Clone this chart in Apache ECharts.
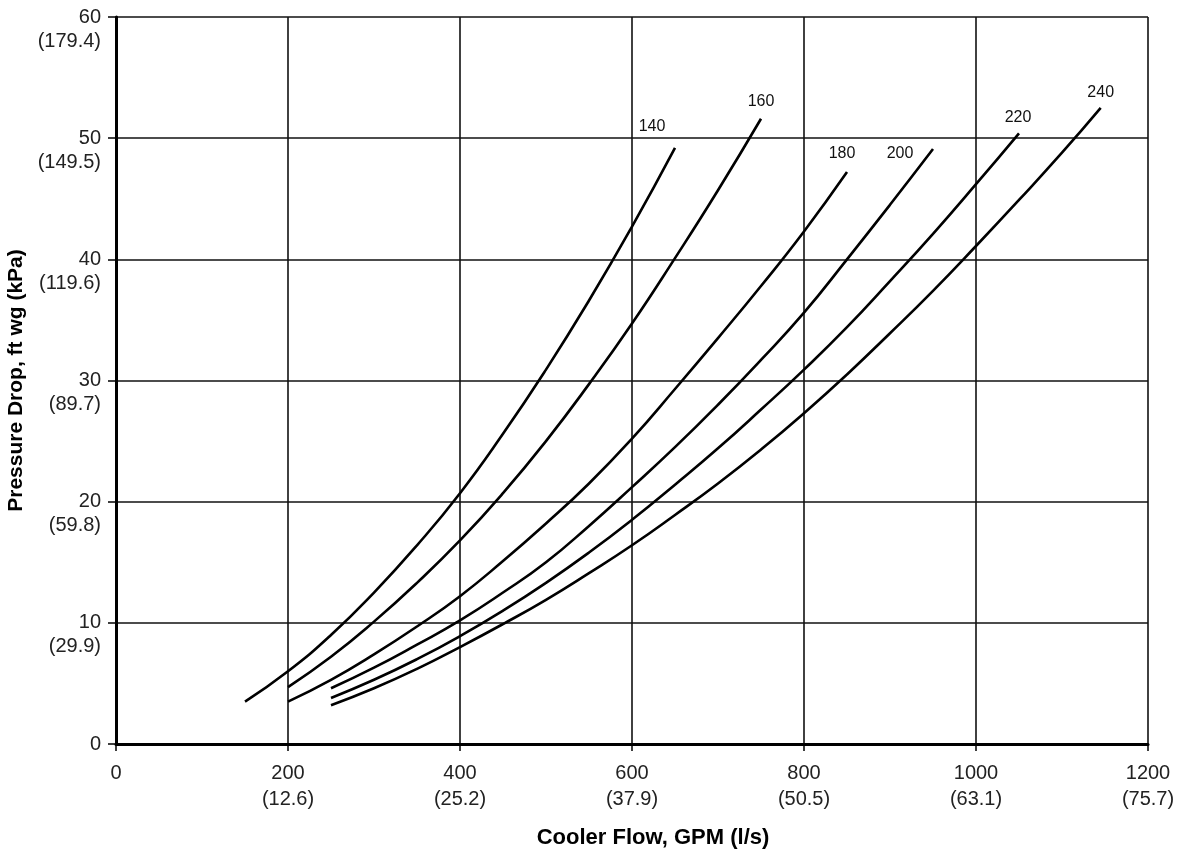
<!DOCTYPE html>
<html>
<head>
<meta charset="utf-8">
<script src="https://cdn.jsdelivr.net/npm/echarts@6/dist/echarts.min.js"></script>
<style>
  html, body { margin: 0; padding: 0; background: #fff; }
  #chart { width: 1179px; height: 852px; }
</style>
</head>
<body>
<div id="chart"></div>
<script>
// Curve labels (cooler size)
const curveNames = ['140', '160', '180', '200', '220', '240'];

// Pressure drop (ft wg) vs cooler flow (GPM)
const curve140 = [[150,3.5],[200,6.0],[250,9.0],[300,12.5],[350,16.4],[400,20.7],[450,25.6],[500,30.9],[550,36.6],[600,42.7],[650,49.2]];
const curve160 = [[200,4.7],[250,7.2],[300,10.1],[350,13.3],[400,16.8],[450,20.7],[500,25.0],[550,29.7],[600,34.7],[650,40.1],[700,45.7],[750,51.6]];
const curve180 = [[200,3.5],[250,5.3],[300,7.4],[350,9.7],[400,12.2],[450,15.1],[500,18.2],[550,21.5],[600,25.2],[650,29.3],[700,33.5],[750,37.8],[800,42.3],[850,47.2]];
const curve200 = [[250,4.6],[300,6.3],[350,8.2],[400,10.2],[450,12.5],[500,15.0],[550,18.0],[600,21.2],[650,24.5],[700,28.0],[750,31.7],[800,35.6],[850,40.0],[900,44.5],[950,49.1]];
const curve220 = [[250,3.8],[300,5.3],[350,7.0],[400,8.9],[450,11.0],[500,13.3],[550,15.8],[600,18.5],[650,21.4],[700,24.4],[750,27.6],[800,30.9],[850,34.4],[900,38.2],[950,42.1],[1000,46.2],[1050,50.4]];
const curve240 = [[250,3.2],[300,4.6],[350,6.2],[400,8.0],[450,9.9],[500,11.9],[550,14.1],[600,16.4],[650,18.9],[700,21.5],[750,24.3],[800,27.3],[850,30.5],[900,33.9],[950,37.4],[1000,41.1],[1050,44.9],[1100,48.8],[1145,52.5]];

// Tick labels
const xTicks = [0, 200, 400, 600, 800, 1000, 1200];
const xTicksSI = ['', '(12.6)', '(25.2)', '(37.9)', '(50.5)', '(63.1)', '(75.7)'];
const yTicks = [0, 10, 20, 30, 40, 50, 60];
const yTicksSI = ['', '(29.9)', '(59.8)', '(89.7)', '(119.6)', '(149.5)', '(179.4)'];

const curves = [curve140, curve160, curve180, curve200, curve220, curve240];
const labelOffsets = [[-23,-21],[0,-17],[-5,-18],[-33,5],[-1,-16],[0,-15]];

const FONT = '"Liberation Sans", Arial, Helvetica, sans-serif';

const series = curves.map((d, i) => ({
  name: curveNames[i],
  type: 'line',
  data: d,
  smooth: 0.5,
  showSymbol: false,
  silent: true,
  lineStyle: { color: '#000', width: 2.6 },
  markPoint: {
    symbol: 'circle',
    symbolSize: 1,
    itemStyle: { color: 'rgba(0,0,0,0)' },
    silent: true,
    animation: false,
    label: {
      show: true,
      position: 'inside',
      offset: labelOffsets[i],
      formatter: curveNames[i],
      color: '#111',
      fontSize: 16,
      fontFamily: FONT
    },
    data: [{ type: 'max', valueDim: 'y' }]
  }
}));

const chart = echarts.init(document.getElementById('chart'), null, { renderer: 'canvas' });
chart.setOption({
  animation: false,
  backgroundColor: '#fff',
  grid: { left: 116, right: 31, top: 17, bottom: 108, containLabel: false, outerBoundsMode: 'none' },
  xAxis: {
    type: 'value',
    min: 0, max: 1200, interval: 200,
    name: 'Cooler Flow, GPM (l/s)',
    nameLocation: 'middle',
    nameGap: 83,
    nameTextStyle: { fontFamily: FONT, fontWeight: 'bold', fontSize: 22, color: '#000', padding: [0, 0, 0, 42] },
    axisLine: { show: true, onZero: false, lineStyle: { color: '#000', width: 3 } },
    axisTick: { show: true, inside: false, length: 7, lineStyle: { color: '#000', width: 1.5 } },
    axisLabel: {
      margin: 16,
      fontFamily: FONT, fontSize: 20, color: '#222', lineHeight: 26,
      formatter: v => {
        const k = xTicks.indexOf(v);
        return xTicksSI[k] ? v + '\n' + xTicksSI[k] : String(v);
      }
    },
    splitLine: { show: true, lineStyle: { color: '#111', width: 1.6 } }
  },
  yAxis: {
    type: 'value',
    min: 0, max: 60, interval: 10,
    name: 'Pressure Drop, ft wg (kPa)',
    nameLocation: 'middle',
    nameGap: 80,
    nameRotate: 90,
    nameTextStyle: { fontFamily: FONT, fontWeight: 'bold', fontSize: 21, color: '#000' },
    axisLine: { show: true, onZero: false, lineStyle: { color: '#000', width: 3 } },
    axisTick: { show: true, inside: false, length: 8, lineStyle: { color: '#000', width: 1.5 } },
    axisLabel: {
      margin: 15,
      fontFamily: FONT, fontSize: 20, color: '#222', lineHeight: 24,
      verticalAlign: 'middle',
      formatter: v => {
        const k = yTicks.indexOf(v);
        return yTicksSI[k] ? '\u00a0\n' + v + '\n' + yTicksSI[k] : String(v);
      }
    },
    splitLine: { show: true, lineStyle: { color: '#111', width: 1.6 } }
  },
  series: series
});
</script>
</body>
</html>
